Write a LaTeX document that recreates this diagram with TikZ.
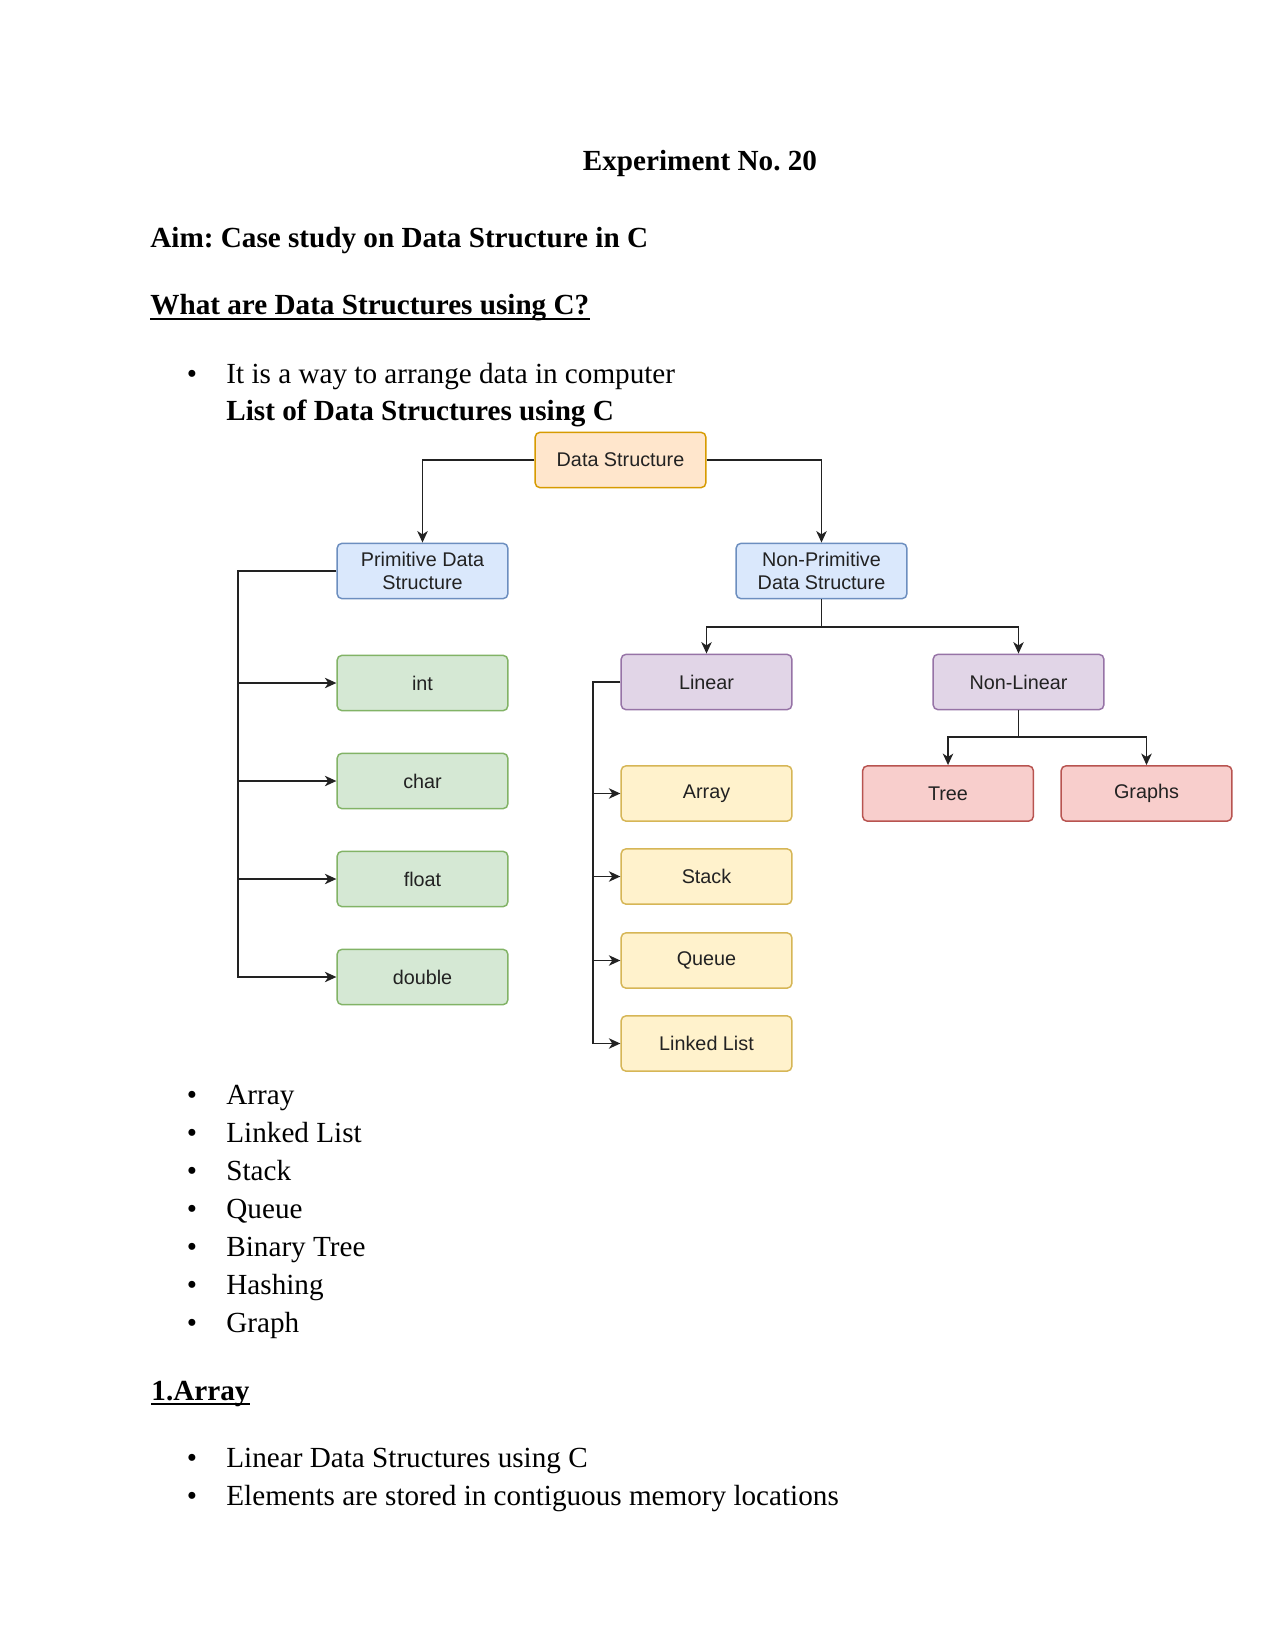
\documentclass[tikz,border=0pt]{standalone}
\usepackage{fontspec}
\setmainfont{Liberation Serif}
\newfontfamily\diagfont{Liberation Sans}
\usetikzlibrary{arrows.meta}
\definecolor{orFill}{HTML}{FFE6CC}\definecolor{orLine}{HTML}{D79B00}
\definecolor{blFill}{HTML}{DAE8FC}\definecolor{blLine}{HTML}{6C8EBF}
\definecolor{grFill}{HTML}{D5E8D4}\definecolor{grLine}{HTML}{82B366}
\definecolor{puFill}{HTML}{E1D5E7}\definecolor{puLine}{HTML}{9673A6}
\definecolor{yeFill}{HTML}{FFF2CC}\definecolor{yeLine}{HTML}{D6B656}
\definecolor{reFill}{HTML}{F8CECC}\definecolor{reLine}{HTML}{B85450}
\definecolor{ink}{HTML}{222222}
\frenchspacing
\begin{document}
\frenchspacing
\begin{tikzpicture}[x=0.48pt,y=-0.48pt,
  box/.style={draw, rounded corners=2.4pt, minimum width=82pt, minimum height=26.6pt,
    line width=0.7pt, inner sep=0pt, align=center, text=ink,
    font=\diagfont\fontsize{9.5}{10.9}\selectfont},
  orbox/.style={box, fill=orFill, draw=orLine},
  blbox/.style={box, fill=blFill, draw=blLine},
  grbox/.style={box, fill=grFill, draw=grLine},
  pubox/.style={box, fill=puFill, draw=puLine},
  yebox/.style={box, fill=yeFill, draw=yeLine},
  rebox/.style={box, fill=reFill, draw=reLine},
  con/.style={draw=ink, line width=0.75pt},
  arr/.style={con, -{Stealth[length=5.5pt,width=5pt,inset=1.6pt]}},
  txt/.style={anchor=base west, inner sep=0pt, font=\fontsize{14}{16}\selectfont},
  hd/.style={anchor=base west, inner sep=0pt, font=\bfseries\fontsize{14}{16}\selectfont},
  bul/.style={anchor=base, inner sep=0pt, font=\fontsize{14}{16}\selectfont},
  uline/.style={line width=0.9pt}]
\useasboundingbox (0,0) rectangle (1275,1650);
\fill[white] (0,0) rectangle (1275,1650);

% header text
\node[hd, anchor=base] (title) at (700,171) {Experiment No. 20};
\node[hd] (aim) at (150,248) {Aim: Case study on Data Structure in C};
\node[hd] (what) at (150,315) {What are Data Structures using C?};
\draw[uline] ([yshift=-1.8pt]what.base west) -- ([yshift=-1.8pt]what.base east);
\node[bul] (b0) at (192,384) {•};
\node[txt] (t0) at (226,384) {It is a way to arrange data in computer};
\node[hd] (list) at (226,421) {List of Data Structures using C};

% diagram nodes
\node[orbox] (ds) at (620.5,460) {Data Structure};
\node[blbox] (prim) at (422.5,571) {Primitive Data\\Structure};
\node[blbox] (np) at (821.5,571) {Non-Primitive\\Data Structure};
\node[grbox] (tint) at (422.5,683) {int};
\node[grbox] (tchar) at (422.5,781) {char};
\node[grbox] (tflt) at (422.5,879) {float};
\node[grbox] (tdbl) at (422.5,977) {double};
\node[pubox] (lin) at (706.5,682) {Linear};
\node[pubox] (nl) at (1018.5,682) {Non-Linear};
\node[yebox] (arrb) at (706.5,793.5) {Array};
\node[yebox] (stk) at (706.5,876.5) {Stack};
\node[yebox] (que) at (706.5,960.5) {Queue};
\node[yebox] (ll) at (706.5,1043.5) {Linked List};
\node[rebox] (tree) at (948,793.5) {Tree};
\node[rebox] (gr) at (1146.5,793.5) {Graphs};

% connectors
\draw[arr] (ds.west) -| (prim.north);
\draw[arr] (ds.east) -| (np.north);
\coordinate (pr) at (238,571);
\draw[arr] (prim.west) -- (pr) |- (tdbl.west);
\foreach \n in {tint,tchar,tflt} \draw[arr] (pr |- \n.west) -- (\n.west);
\coordinate (npj) at (821.5,627);
\draw[arr] (np.south) -- (npj) -| (lin.north);
\draw[arr] (npj) -| (nl.north);
\coordinate (lr) at (593,682);
\draw[arr] (lin.west) -- (lr) |- (ll.west);
\foreach \n in {arrb,stk,que} \draw[arr] (lr |- \n.west) -- (\n.west);
\coordinate (nlj) at (1018.5,737);
\draw[arr] (nl.south) -- (nlj) -| (tree.north);
\draw[arr] (nlj) -| (gr.north);

% list
\foreach \t [count=\i from 0] in {Array,Linked List,Stack,Queue,Binary Tree,Hashing,Graph} {
  \node[bul] (lb\i) at (192,1104+38*\i) {•};
  \node[txt] (li\i) at (226,1104+38*\i) {\t};
}
\node[hd] (sec) at (151,1400) {1.Array};
\draw[uline] ([yshift=-1.8pt]sec.base west) -- ([yshift=-1.8pt]sec.base east);
\node[bul] (c0) at (192,1467) {•};
\node[txt] (d0) at (226,1467) {Linear Data Structures using C};
\node[bul] (c1) at (192,1505) {•};
\node[txt] (d1) at (226,1505) {Elements are stored in contiguous memory locations};
\end{tikzpicture}
\end{document}
